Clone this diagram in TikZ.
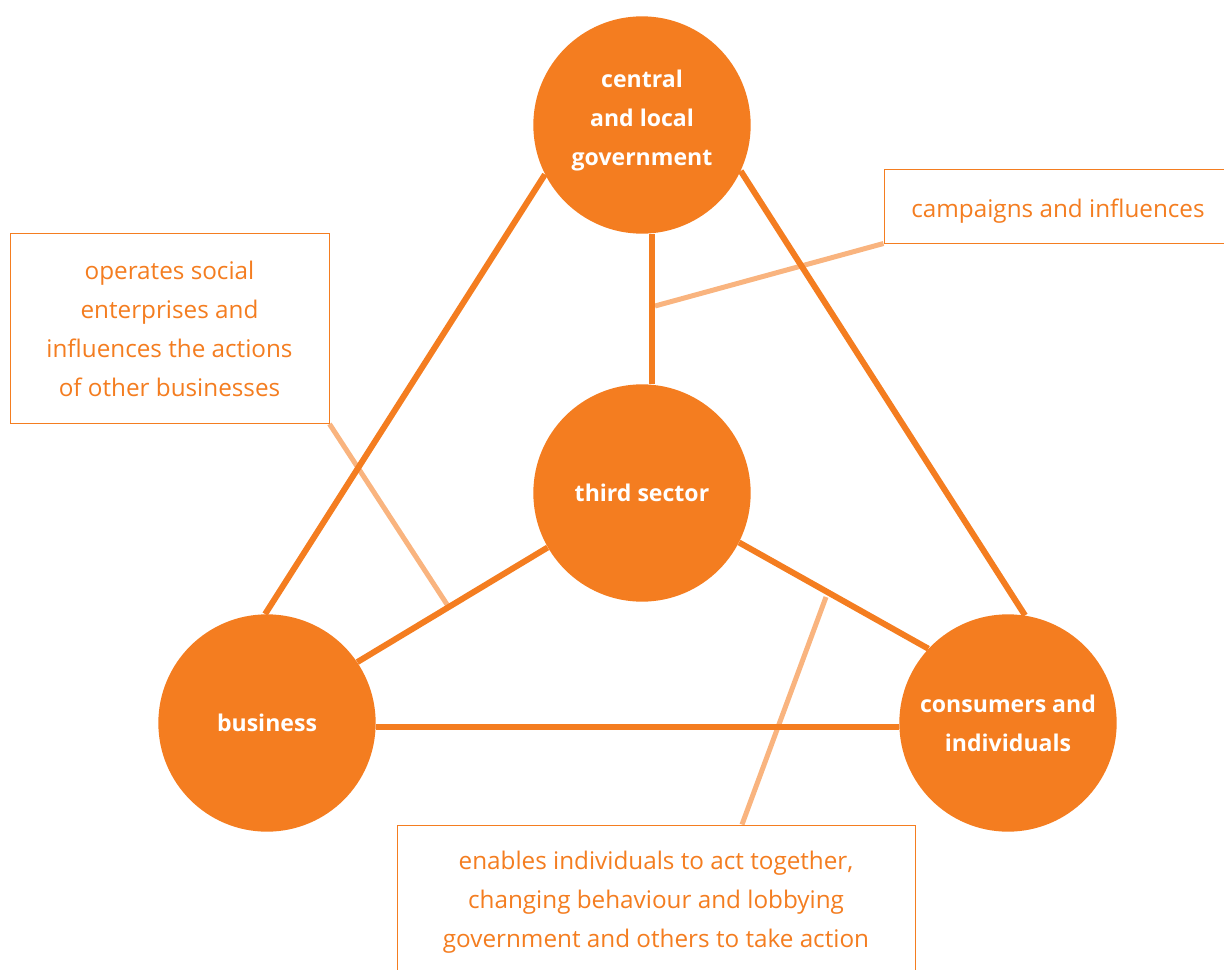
\documentclass[tikz,border=0pt]{standalone}
\usepackage{fontspec}
\setmainfont{Open Sans}
\usetikzlibrary{backgrounds}
\definecolor{org}{HTML}{F47D20}
\definecolor{lorg}{HTML}{F9B47F}
\begin{document}
\begin{tikzpicture}[x=0.75pt,y=-0.75pt,
  hub/.style={circle,fill=org,minimum size=163pt,inner sep=0pt,text=white,align=center,
    font=\fontsize{17.3}{29.25}\selectfont\bfseries},
  link/.style={draw=org,line width=4.5pt},
  note/.style={draw=org,line width=0.75pt,fill=white,text=org,align=center,inner sep=0pt,
    font=\fontsize{18.2}{29.25}\selectfont},
  lead/.style={draw=lorg,line width=3.75pt}]
\useasboundingbox (0,0) rectangle (1224,970);
% hubs
\node[hub,text depth=11pt] (gov) at (642,125) {central\\and local\\government};
\node[hub] (third) at (642,493) {third sector};
\node[hub] (bus) at (267,723) {business};
\node[hub] (cons) at (1008,723) {consumers and\\individuals};
% notes
\node[note,minimum width=261pt,minimum height=54.75pt,text height=20.8pt,text depth=3.9pt] (camp) at (1058,206.5) {campaigns and influences};
\node[note,minimum width=239.25pt,minimum height=142.5pt] (oper) at (169.5,328.5) {operates social\\enterprises and\\influences the actions\\of other businesses};
\node[note,minimum width=388.5pt,minimum height=115.5pt] (enab) at (656,902) {enables individuals to act together,\\changing behaviour and lobbying\\government and others to take action};
% lead end points
\coordinate (p1) at (655,306);
\coordinate (p2) at (448,606);
\coordinate (p3) at (826,597);
\begin{pgfonlayer}{background}
\draw[lead] (camp.south west) -- (p1);
\draw[lead] (oper.south east) -- (p2);
\draw[lead] ([xshift=64.5pt]enab.north) -- (p3);
\draw[link] (gov.207) -- (bus.91);
\draw[link] (gov.335) -- (cons.81);
\draw[link] (gov.275) -- (third.85);
\draw[link] (third.210) -- (bus.34);
\draw[link] (third.333) -- (cons.137);
\draw[link] (bus.-2) -- (cons.182);
\end{pgfonlayer}
\end{tikzpicture}
\end{document}
